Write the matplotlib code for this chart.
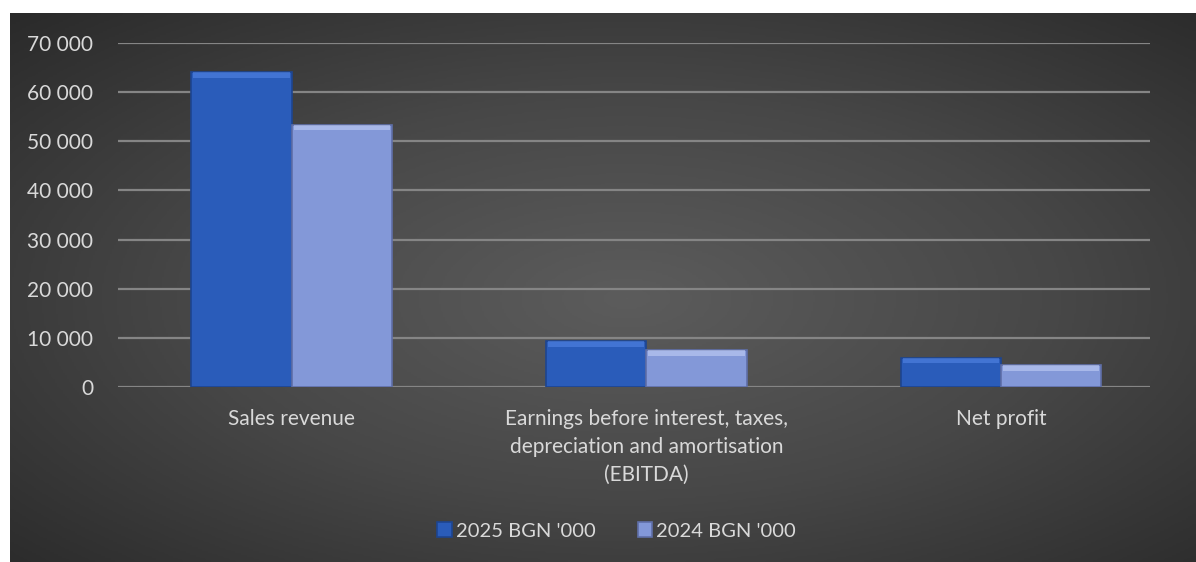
import numpy as np
import matplotlib.pyplot as plt
from matplotlib.colors import LinearSegmentedColormap

categories = ['Sales revenue',
              'Earnings before interest, taxes,\ndepreciation and amortisation\n(EBITDA)',
              'Net profit']
series_names = ["2025 BGN '000", "2024 BGN '000"]
values_2025 = [64000, 9300, 5900]
values_2024 = [53300, 7500, 4450]
yticks = list(range(0, 70001, 10000))

plt.rcParams['font.family'] = ['Lato', 'DejaVu Sans']
txt = '#d9d9d9'

fig = plt.figure(figsize=(11.96, 5.62), dpi=100)
fig.patch.set_facecolor('white')

# radial gradient background
bg = fig.add_axes([10 / 1196, 0, 1 - 10 / 1196, 1 - 13 / 562])
bg.set_axis_off()
yy, xx = np.mgrid[0:1:300j, 0:1:600j]
r = np.sqrt(((xx - 0.52) / 0.75) ** 2 + ((yy - 0.52) / 0.75) ** 2)
r = np.clip(r / r.max(), 0, 1)
cmap_bg = LinearSegmentedColormap.from_list('bg', ['#5c5c5c', '#474747', '#2a2a2a'])
bg.imshow(r, cmap=cmap_bg, aspect='auto', extent=[0, 1, 0, 1], vmin=0, vmax=1)

ax = fig.add_axes([118 / 1196, 1 - 387 / 562, (1150 - 118) / 1196, (387 - 43) / 562])
ax.patch.set_alpha(0)

x = np.arange(len(categories))
w = 0.283
fills = ['#2a5cba', '#8398d8']
tops = ['#5a8cec', '#cdd9fa']
sides = ['#1d4590', '#5f6fa8']
for i, (vals, name) in enumerate(zip([values_2025, values_2024], series_names)):
    xs = x + (i - 0.5) * w
    ax.bar(xs, vals, width=w, color=fills[i], edgecolor=sides[i], linewidth=1.2,
           label=name, zorder=3)
    # bevel highlight on top
    bev = 1100
    ax.bar(xs, [bev] * len(vals), bottom=[v - bev for v in vals], width=w * 0.96,
           color=tops[i], alpha=0.5, linewidth=0, zorder=4)

ax.set_xlim(-0.49, 2.42)
ax.set_ylim(0, 70000)
ax.set_yticks(yticks)
ax.set_yticklabels([f'{v:,}'.replace(',', ' ') for v in yticks])
ax.set_xticks(x)
ax.set_xticklabels(categories, linespacing=1.5)
ax.grid(axis='y', color='#858585', linewidth=1.6, zorder=0)
ax.set_axisbelow(True)
for s in ax.spines.values():
    s.set_visible(False)
ax.tick_params(axis='both', length=0, colors=txt, labelsize=15)
ax.tick_params(axis='y', pad=18)
ax.tick_params(axis='x', pad=16)

leg = ax.legend(loc='center', bbox_to_anchor=(0.483, (387 - 531) / 344),
                ncol=2, frameon=False, fontsize=14.5, labelcolor=txt,
                handlelength=0.7, handleheight=0.7, handletextpad=0.2, columnspacing=2.1)

fig.savefig('out.png', dpi=100)
